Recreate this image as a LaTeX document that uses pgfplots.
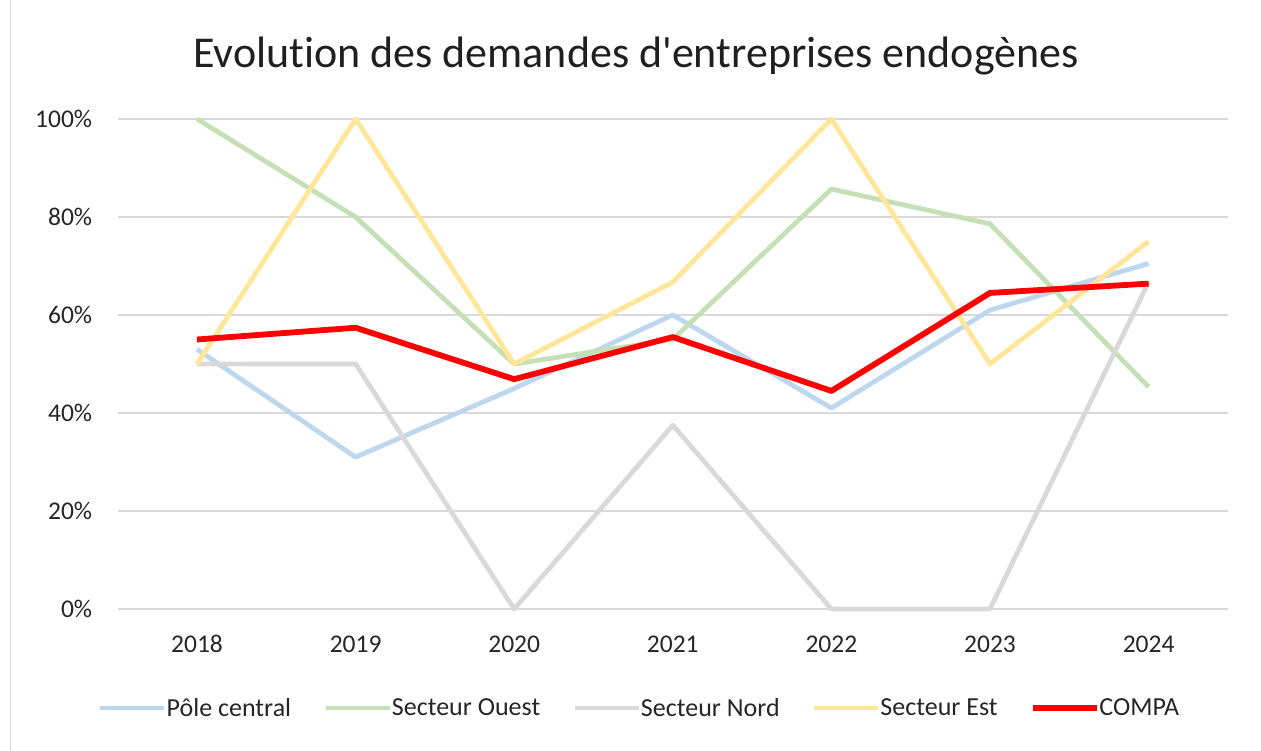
\documentclass[border=0pt]{standalone}
\usepackage{pgfplots}
\pgfplotsset{compat=1.18}
\usepackage{fontspec}
\setmainfont{Carlito}[Ligatures=TeX, RawFeature={-liga;-clig;-calt;-dlig}]
\definecolor{cblue}{HTML}{BDD7EE}
\definecolor{cgreen}{HTML}{C5E0B4}
\definecolor{cgray}{HTML}{D9D9D9}
\definecolor{cyellow}{HTML}{FFE699}
\definecolor{cred}{HTML}{FF0000}
\definecolor{cgrid}{HTML}{D9D9D9}
\begin{document}
\begin{tikzpicture}
\useasboundingbox (0pt,0pt) rectangle (1261pt,751pt);
\draw[cgrid,line width=1pt] (10pt,0pt) -- (10pt,751pt);
\node[anchor=base, font=\fontsize{44}{50}\selectfont, text=black!88, inner sep=0pt] at (636pt,683pt) {Evolut\kern0pt ion des demandes d\textquotesingle entreprises endogènes};
\begin{axis}[
  at={(117.7pt,142pt)}, anchor=south west,
  scale only axis, width=1110.3pt, height=490pt,
  xmin=-0.5, xmax=6.5, ymin=0, ymax=100,
  xtick={0,...,6}, xticklabels={2018,2019,2020,2021,2022,2023,2024},
  ytick={0,20,40,60,80,100},
  yticklabel={\pgfmathprintnumber{\tick}\%},
  /pgf/number format/assume math mode=true,
  ymajorgrids, grid style={cgrid,line width=1.2pt},
  axis line style={draw=none},
  major tick length=0pt,
  tick label style={font=\fontsize{25.5}{30}\selectfont, text=black!85},
  yticklabel style={anchor=east, xshift=-22pt},
  xticklabel style={anchor=base, yshift=-44pt},
  clip=false,
  legend columns=5,
  legend style={draw=none, at={(0.47,-0.202)}, anchor=center, font=\fontsize{26}{30}\selectfont, text=black!85,
    /tikz/every even column/.append style={column sep=30pt},
    /tikz/every odd column/.append style={column sep=-2pt}},
  legend image code/.code={\draw[#1] (0pt,0pt) -- (64pt,0pt);},
]
\addplot[cblue, line width=4.8pt, line join=round] coordinates {(0,53) (1,31) (2,45) (3,60) (4,41) (5,61) (6,70.5)};
\addlegendentry{Pôle central}
\addplot[cgreen, line width=4.8pt, line join=round] coordinates {(0,100) (1,80) (2,50) (3,55) (4,85.7) (5,78.6) (6,45.3)};
\addlegendentry{Secteur Ouest}
\addplot[cgray, line width=4.8pt, line join=round] coordinates {(0,50) (1,50) (2,0) (3,37.5) (4,0) (5,0) (6,66.7)};
\addlegendentry{Secteur Nord}
\addplot[cyellow, line width=4.8pt, line join=round] coordinates {(0,50) (1,100) (2,50) (3,66.7) (4,100) (5,50) (6,75)};
\addlegendentry{Secteur Est}
\addplot[cred, line width=5.8pt, line join=round] coordinates {(0,55) (1,57.4) (2,46.9) (3,55.5) (4,44.5) (5,64.5) (6,66.4)};
\addlegendentry{COMPA}
\end{axis}
\end{tikzpicture}
\end{document}
